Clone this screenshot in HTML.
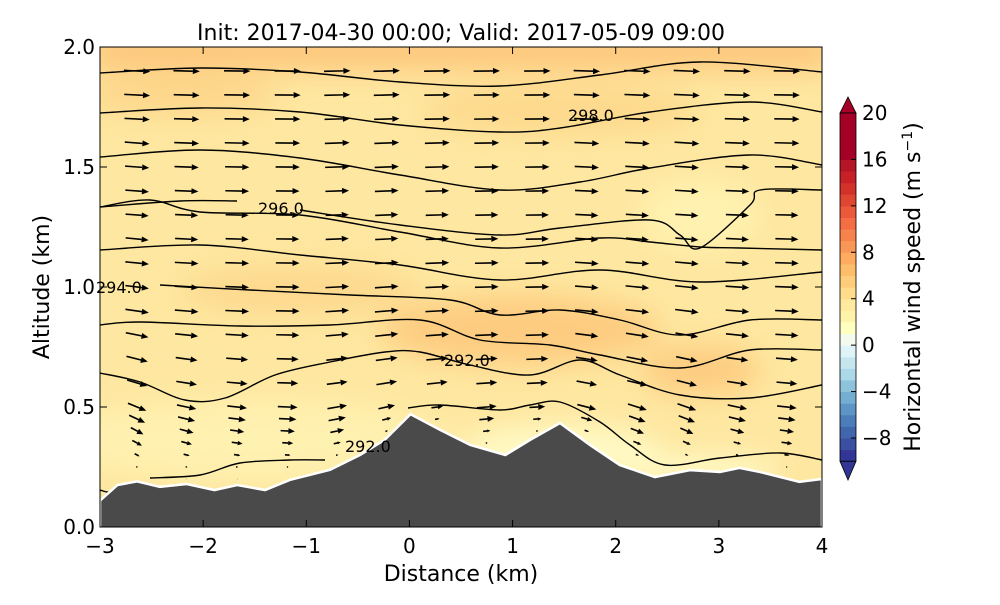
<!DOCTYPE html>
<html><head><meta charset="utf-8"><style>
body{margin:0;background:#fff;width:1000px;height:600px;overflow:hidden;font-family:"Liberation Sans","DejaVu Sans",sans-serif}
svg text{font-family:"DejaVu Sans","Liberation Sans",sans-serif}
</style></head><body>
<svg id="chart" width="1000" height="600" xmlns="http://www.w3.org/2000/svg">
<defs>
<clipPath id="pc"><rect x="100" y="47" width="722" height="480"/></clipPath>
<filter id="bl" x="-50%" y="-50%" width="200%" height="200%"><feGaussianBlur stdDeviation="14"/></filter>
</defs>
<text x="461" y="40" font-size="22" text-anchor="middle">Init: 2017-04-30 00:00; Valid: 2017-05-09 09:00</text>
<g clip-path="url(#pc)">
<rect x="100" y="47" width="722" height="480" fill="#fee7a0"/>
<g filter="url(#bl)">
<rect x="90" y="30" width="740" height="40" fill="#fdc77c"/>
<ellipse cx="180" cy="95" rx="100" ry="20" fill="#fdd68a"/>
<ellipse cx="560" cy="110" rx="140" ry="25" fill="#fdd98c"/>
<ellipse cx="520" cy="330" rx="140" ry="35" fill="#fdcc80"/>
<ellipse cx="700" cy="370" rx="60" ry="25" fill="#fdcc80"/>
<ellipse cx="300" cy="290" rx="120" ry="25" fill="#fdd98e"/>
<ellipse cx="700" cy="215" rx="60" ry="35" fill="#fff2b0"/>
<ellipse cx="250" cy="440" rx="200" ry="40" fill="#fff1b0"/>
<ellipse cx="560" cy="450" rx="100" ry="25" fill="#fffac6"/>
<ellipse cx="700" cy="470" rx="80" ry="15" fill="#fffac6"/>
</g>
</g>
<g id="contours" clip-path="url(#pc)"></g>
<g id="arrows" clip-path="url(#pc)"></g>
<g id="terrain" clip-path="url(#pc)"></g>
<g font-size="16">
<text x="568" y="121">298.0</text>
<text x="258" y="214">296.0</text>
<text x="96" y="293">294.0</text>
<text x="444" y="366">292.0</text>
<text x="345" y="452">292.0</text>
</g>
<rect x="100" y="47" width="722" height="480" fill="none" stroke="#000" stroke-width="1"/>
<g id="axes" font-size="20"></g>
<text x="461" y="581" font-size="22" text-anchor="middle">Distance (km)</text>
<text transform="translate(49,287) rotate(-90)" font-size="22" text-anchor="middle">Altitude (km)</text>
<g id="cbar" font-size="20"></g>
<text transform="translate(920,287) rotate(-90)" font-size="22" text-anchor="middle">Horizontal wind speed (m s<tspan dy="-8" font-size="14">−1</tspan><tspan dy="8">)</tspan></text>
</svg>
<script>
const NS="http://www.w3.org/2000/svg";
const xTicks=[-3,-2,-1,0,1,2,3,4];
const yTicks=[0.0,0.5,1.0,1.5,2.0];
const cbLevels=[-10,-9,-8,-7,-6,-5,-4,-3,-2,-1,0,1,2,3,4,5,6,7,8,9,10,11,12,13,14,15,16,17,18,19,20];
const cbColors=["#313695","#3a4fa0","#4166ac","#4a7db9","#5f94c6","#74add1","#8fc3dc","#abd9e9","#c6e6ef","#e0f3f8","#f4faed","#ffffbf","#fff3ac","#fee99c","#fedc8c","#fdcd7b","#fdbe6c","#fcab5f","#f99756","#f6834c","#f46d43","#ea5a3a","#de4632","#d3322b","#c62127","#b61527","#a50026","#a50026","#a50026","#a50026"];
const cbTicks=[-8,-4,0,4,8,12,16,20];
const terrainX=[-3,-2.83,-2.64,-2.42,-2.16,-1.89,-1.67,-1.4,-1.16,-0.77,-0.48,-0.24,0.01,0.3,0.59,0.93,1.17,1.46,1.75,2.04,2.38,2.72,3.01,3.2,3.4,3.78,4];
const terrainZ=[0.11,0.175,0.19,0.167,0.179,0.154,0.175,0.154,0.196,0.238,0.3,0.363,0.47,0.404,0.342,0.3,0.363,0.433,0.342,0.258,0.208,0.237,0.229,0.246,0.229,0.188,0.2];
const contourPx=[
[[100,73],[200,68],[300,72],[400,82],[500,86],[600,75],[700,62],[822,72]],
[[100,113],[200,108],[300,112],[400,125],[500,132],[560,128],[650,112],[750,102],[822,112]],
[[100,157],[200,150],[300,158],[400,175],[500,190],[580,182],[650,168],[750,155],[822,165]],
[[100,207],[180,201],[237,201]],
[[300,210],[400,225],[500,235],[560,228],[650,220],[680,235],[700,248],[750,205],[760,190],[822,190]],
[[100,207],[150,200],[200,212],[300,215],[400,232],[500,248],[600,238],[650,242],[700,247],[740,248],[822,250]],
[[100,250],[200,245],[300,255],[400,265],[500,280],[600,270],[700,282],[822,272]],
[[160,285],[250,290],[350,295],[450,300],[500,315],[560,310],[620,320],[680,335],[750,320],[822,320]],
[[100,325],[140,322],[240,326],[330,325],[420,320],[480,340],[550,345],[600,355],[680,368],[750,350],[822,350]],
[[100,373],[140,382],[185,400],[225,398],[275,375],[330,362],[385,352],[420,352],[470,365],[530,375],[580,360],[620,375],[680,395],[750,398],[822,385]],
[[100,490],[110,492],[120,485]],
[[150,478],[200,475],[240,463],[290,460],[325,460]],
[[408,408],[440,405],[500,410],[530,405],[560,402],[600,422],[630,445],[665,465],[720,458],[780,453],[822,460]]
];
const colX=[-2.64,-2.16,-1.67,-1.18,-0.70,-0.22,0.27,0.75,1.24,1.72,2.21,2.69,3.18,3.66];
const colTilt=[-28,-15,-8,-3,12,15,10,6,4,-18,-22,-24,-15,-8];
const rowZ=[0.2,0.25,0.3,0.35,0.4,0.45,0.5,0.6,0.7,0.8,0.9,1.0,1.1,1.2,1.3,1.4,1.5,1.6,1.7,1.8,1.9];
const rowU=[0.3,0.8,1.4,2.0,2.6,3.2,3.6,3.8,4.0,4.2,4.3,4.3,4.3,4.2,4.2,4.3,4.4,4.5,4.6,4.7,4.8];
const rowTiltScale=[1,1,1,1,1,0.9,0.8,0.6,0.5,0.4,0.3,0.25,0.2,0.2,0.15,0.15,0.15,0.15,0.1,0.1,0.1];
const X=v=>100+(v+3)*722/7, Y=v=>527-v*240;
function el(t,a,p){const e=document.createElementNS(NS,t);for(const k in a)e.setAttribute(k,a[k]);p.appendChild(e);return e;}
function terr(x){for(let i=0;i<terrainX.length-1;i++){if(x>=terrainX[i]&&x<=terrainX[i+1]){const f=(x-terrainX[i])/(terrainX[i+1]-terrainX[i]);return terrainZ[i]+f*(terrainZ[i+1]-terrainZ[i]);}}return 0;}
function smooth(p){let d=`M${p[0][0]},${p[0][1]}`;for(let i=0;i<p.length-1;i++){const a=p[i-1]||p[i],b=p[i],c=p[i+1],e=p[i+2]||c;
d+=` C${b[0]+(c[0]-a[0])/6},${b[1]+(c[1]-a[1])/6} ${c[0]-(e[0]-b[0])/6},${c[1]-(e[1]-b[1])/6} ${c[0]},${c[1]}`;}return d;}
const cg=document.getElementById('contours');
contourPx.forEach((c,i)=>{const p=el('path',{d:smooth(c),fill:'none',stroke:'#000','stroke-width':1.4},cg);

});
const ag=document.getElementById('arrows');
colX.forEach((cx,ci)=>{rowZ.forEach((z,ri)=>{
 const t=terr(cx); if(z<t+0.02)return;
 let u=rowU[ri]; if(z<t+0.15)u*=Math.max(0.15,(z-t)/0.15);
 const L=u*5.5, a=colTilt[ci]*rowTiltScale[ri]*Math.PI/180;
 const x0=X(cx)-L/2*Math.cos(a), y0=Y(z)+L/2*Math.sin(a);
 const x1=X(cx)+L/2*Math.cos(a), y1=Y(z)-L/2*Math.sin(a);
 const g=el('g',{},ag);
 
 
 const hl=Math.min(7,L*0.45), hw=Math.min(3,L*0.2);
 const bx=x1-hl*Math.cos(a), by=y1+hl*Math.sin(a);
 el('line',{x1:x0,y1:y0,x2:bx,y2:by,stroke:'#000','stroke-width':1.6},g);
 const px=hw*Math.sin(a), py=hw*Math.cos(a);
 el('polygon',{points:`${x1},${y1} ${bx+px},${by+py} ${bx-px},${by-py}`,fill:'#000'},g);
});});
const tg=document.getElementById('terrain');
let pts=terrainX.map((x,i)=>X(x)+','+Y(terrainZ[i])).join(' ');
const tp=el('polygon',{points:pts+` ${X(4)},530 ${X(-3)},530`,fill:'#4a4a4a',stroke:'#fff','stroke-width':2.5},tg);


const ax=document.getElementById('axes');
xTicks.forEach(v=>{el('line',{x1:X(v),x2:X(v),y1:527,y2:520,stroke:'#000'},ax);el('line',{x1:X(v),x2:X(v),y1:47,y2:54,stroke:'#000'},ax);
 const t=el('text',{x:X(v),y:553,'text-anchor':'middle'},ax);t.textContent=(v<0?'−'+(-v):v);
 
 });
yTicks.forEach(v=>{el('line',{x1:100,x2:107,y1:Y(v),y2:Y(v),stroke:'#000'},ax);el('line',{x1:822,x2:815,y1:Y(v),y2:Y(v),stroke:'#000'},ax);
 const t=el('text',{x:95,y:Y(v)+7,'text-anchor':'end'},ax);t.textContent=v.toFixed(1);
 
 });
const cb=document.getElementById('cbar');
const CY=v=>113+(20-v)*(438-113)/28;
for(let i=0;i<cbLevels.length-1;i++){el('rect',{x:840,y:CY(cbLevels[i+1]),width:16,height:CY(cbLevels[i])-CY(cbLevels[i+1])+0.5,fill:cbColors[i]},cb);}
el('polygon',{points:`840,${CY(20)} 856,${CY(20)} 848,97`,fill:'#a50026',stroke:'#000','stroke-width':0.8},cb);
el('polygon',{points:`840,${CY(-10)} 856,${CY(-10)} 848,480`,fill:'#313695',stroke:'#000','stroke-width':0.8},cb);
el('rect',{x:840,y:CY(20),width:16,height:CY(-10)-CY(20),fill:'none',stroke:'#000','stroke-width':0.8},cb);
cbTicks.forEach(v=>{el('line',{x1:851,x2:856,y1:CY(v),y2:CY(v),stroke:'#000'},cb);
 const t=el('text',{x:862,y:CY(v)+7},cb);t.textContent=(v<0?'−'+(-v):v);
 
 });
</script>
</body></html>
